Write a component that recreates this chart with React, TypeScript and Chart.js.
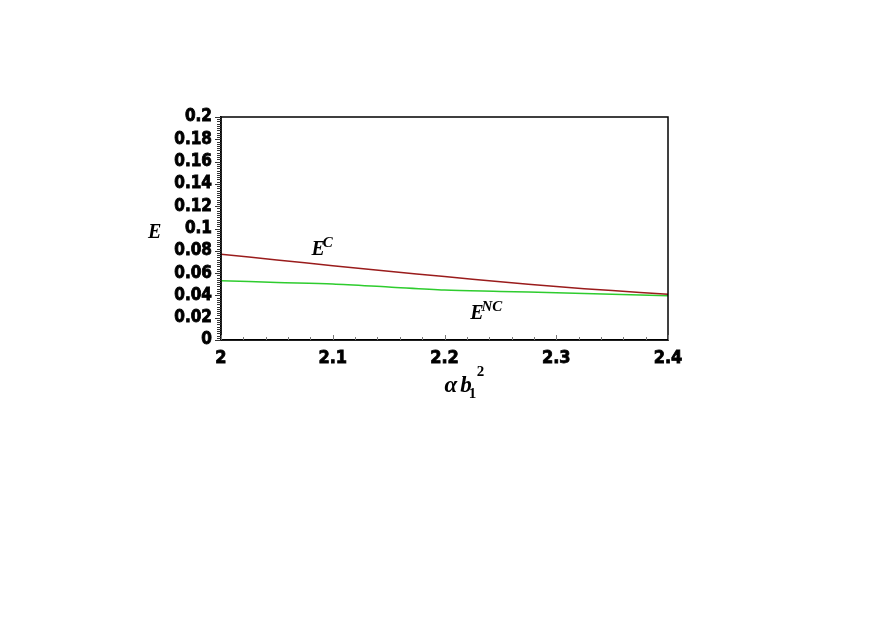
import React, { useEffect, useRef } from "react";
import { Chart, registerables } from "chart.js";

Chart.register(...registerables);

const xValues = [2.0, 2.05, 2.1, 2.15, 2.2, 2.25, 2.3, 2.35, 2.4];
const ecValues = [0.077, 0.0718, 0.0667, 0.0617, 0.0569, 0.0523, 0.0479, 0.0443, 0.041];
const encValues = [0.0532, 0.0516, 0.0502, 0.0475, 0.0448, 0.0436, 0.0424, 0.041, 0.0397];
const yTickLabels = ["0", "0.02", "0.04", "0.06", "0.08", "0.1", "0.12", "0.14", "0.16", "0.18", "0.2"];
const xTickLabels = ["2", "2.1", "2.2", "2.3", "2.4"];
const yAxisTitle = "E";
const seriesLabels = [
  { base: "E", sup: "C", x: 2.081, y: 0.0762 },
  { base: "E", sup: "NC", x: 2.223, y: 0.0185 },
];

const SERIF = "'Liberation Serif', 'Times New Roman', serif";
const TICKFONT = "'DejaVu Sans Condensed', 'Liberation Sans', Arial, sans-serif";

const decorPlugin = {
  id: "decor",
  afterDraw(chart: any) {
    const { ctx, chartArea } = chart;
    const xs = chart.scales.x;
    const ys = chart.scales.y;
    ctx.save();
    // frame
    ctx.strokeStyle = "#000";
    ctx.lineWidth = 1.5;
    ctx.strokeRect(chartArea.left, chartArea.top, chartArea.right - chartArea.left, chartArea.bottom - chartArea.top);
    // y minor ticks (outside)
    ctx.lineWidth = 1;
    ctx.strokeStyle = "#333";
    for (let i = 0; i <= 100; i++) {
      const v = i * 0.002;
      const py = Math.round(ys.getPixelForValue(v)) + 0.5;
      const len = i % 10 === 0 ? 6 : 4;
      ctx.beginPath();
      ctx.moveTo(chartArea.left - len, py);
      ctx.lineTo(chartArea.left, py);
      ctx.stroke();
    }
    // x minor ticks (inside)
    ctx.strokeStyle = "#777";
    for (let i = 0; i <= 20; i++) {
      const v = 2 + i * 0.02;
      const px = Math.round(xs.getPixelForValue(v)) + 0.5;
      const len = i % 5 === 0 ? 5 : 3;
      ctx.beginPath();
      ctx.moveTo(px, chartArea.bottom);
      ctx.lineTo(px, chartArea.bottom - len);
      ctx.stroke();
    }
    // Y axis title
    ctx.fillStyle = "#000";
    ctx.textBaseline = "alphabetic";
    ctx.textAlign = "left";
    ctx.font = `italic bold 20px ${SERIF}`;
    ctx.fillText(yAxisTitle, chartArea.left - 73, ys.getPixelForValue(0.1) + 9);
    // series labels
    for (const s of seriesLabels) {
      const px = xs.getPixelForValue(s.x);
      const py = ys.getPixelForValue(s.y);
      ctx.font = `italic bold 20px ${SERIF}`;
      ctx.fillText(s.base, px, py);
      const w = ctx.measureText(s.base).width;
      ctx.font = `italic bold 15px ${SERIF}`;
      ctx.fillText(s.sup, px + w - 2, py - 8);
    }
    // x axis title: alpha b_1^2
    const cx = (chartArea.left + chartArea.right) / 2;
    const by = chartArea.bottom + 52;
    let x0 = cx;
    ctx.font = `italic bold 23px ${SERIF}`;
    ctx.fillText("α", x0, by);
    x0 += ctx.measureText("α").width + 3;
    ctx.fillText("b", x0, by);
    x0 += ctx.measureText("b").width - 3;
    ctx.font = `bold 15px ${SERIF}`;
    ctx.fillText("1", x0, by + 6);
    ctx.fillText("2", x0 + 8, by - 16);
    ctx.restore();
  },
};

export default function App() {
  const ref = useRef<HTMLCanvasElement | null>(null);
  useEffect(() => {
    if (!ref.current) return;
    const chart = new Chart(ref.current, {
      type: "line",
      data: {
        datasets: [
          {
            label: "E^C",
            data: xValues.map((x, i) => ({ x, y: ecValues[i] })),
            borderColor: "#9a1c1c",
            borderWidth: 1.5,
            pointRadius: 0,
            tension: 0.3,
          },
          {
            label: "E^NC",
            data: xValues.map((x, i) => ({ x, y: encValues[i] })),
            borderColor: "#2ecc2e",
            borderWidth: 1.5,
            pointRadius: 0,
            tension: 0.3,
          },
        ],
      },
      options: {
        responsive: false,
        animation: false,
        layout: { padding: { left: 161, top: 117, right: 205, bottom: 258 } },
        plugins: { legend: { display: false }, tooltip: { enabled: false }, title: { display: false } },
        scales: {
          x: {
            type: "linear",
            min: 2,
            max: 2.4,
            grid: { display: false },
            border: { display: true, color: "#000", width: 1.5 },
            ticks: {
              stepSize: 0.1,
              padding: 0,
              autoSkip: false,
              color: "#000",
              textStrokeColor: "#000",
              textStrokeWidth: 0.8,
              font: { family: TICKFONT, weight: "bold", size: 18 },
              callback: (_v: any, i: number) => xTickLabels[i],
              maxRotation: 0,
            },
            afterFit: (s: any) => { s.height = 30; },
          },
          y: {
            min: 0,
            max: 0.2,
            grid: { display: false },
            border: { display: true, color: "#000", width: 1.5 },
            ticks: {
              stepSize: 0.02,
              padding: 1,
              autoSkip: false,
              color: "#000",
              textStrokeColor: "#000",
              textStrokeWidth: 0.8,
              font: { family: TICKFONT, weight: "bold", size: 17 },
              callback: (_v: any, i: number) => yTickLabels[i],
            },
            afterFit: (s: any) => { s.width = 60; },
          },
        },
      },
      plugins: [decorPlugin],
    });
    return () => chart.destroy();
  }, []);
  return (
    <div style={{ position: "absolute", left: 0, top: 0, width: 873, height: 628, background: "#fff" }}>
      <canvas ref={ref} width={873} height={628} style={{ display: "block" }} />
    </div>
  );
}
